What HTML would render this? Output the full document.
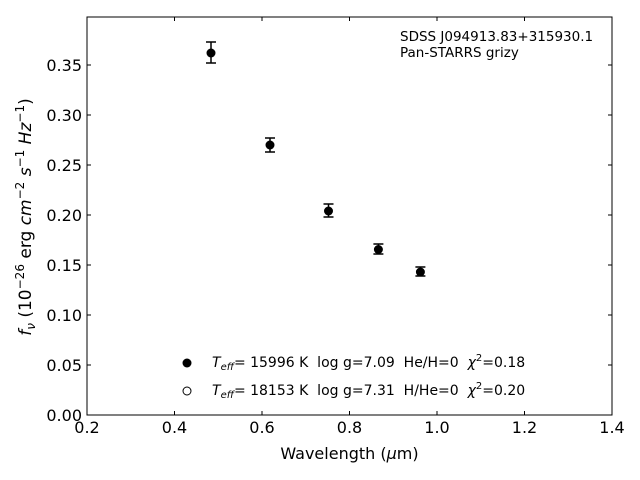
<!DOCTYPE html>
<html><head><style>body{margin:0;background:#fff}svg{display:block}text{font-family:"DejaVu Sans","Liberation Sans",sans-serif;fill:#000;white-space:pre}</style></head>
<body>
<svg width="640" height="480" viewBox="0 0 640 480" xmlns="http://www.w3.org/2000/svg" xml:space="preserve">
<rect x="87" y="17" width="525" height="398" fill="none" stroke="#000" stroke-width="1"/>
<g stroke="#000" stroke-width="1">
<line x1="87" y1="415" x2="87" y2="411"/><line x1="174.5" y1="415" x2="174.5" y2="411"/><line x1="262" y1="415" x2="262" y2="411"/><line x1="349.5" y1="415" x2="349.5" y2="411"/><line x1="437" y1="415" x2="437" y2="411"/><line x1="524.5" y1="415" x2="524.5" y2="411"/><line x1="612" y1="415" x2="612" y2="411"/>
<line x1="87" y1="17" x2="87" y2="21"/><line x1="174.5" y1="17" x2="174.5" y2="21"/><line x1="262" y1="17" x2="262" y2="21"/><line x1="349.5" y1="17" x2="349.5" y2="21"/><line x1="437" y1="17" x2="437" y2="21"/><line x1="524.5" y1="17" x2="524.5" y2="21"/>
<line x1="87" y1="415" x2="91" y2="415"/><line x1="87" y1="365" x2="91" y2="365"/><line x1="87" y1="315" x2="91" y2="315"/><line x1="87" y1="265" x2="91" y2="265"/><line x1="87" y1="215" x2="91" y2="215"/><line x1="87" y1="165" x2="91" y2="165"/><line x1="87" y1="115" x2="91" y2="115"/><line x1="87" y1="65" x2="91" y2="65"/>
<line x1="612" y1="365" x2="608" y2="365"/><line x1="612" y1="315" x2="608" y2="315"/><line x1="612" y1="265" x2="608" y2="265"/><line x1="612" y1="215" x2="608" y2="215"/><line x1="612" y1="165" x2="608" y2="165"/><line x1="612" y1="115" x2="608" y2="115"/><line x1="612" y1="65" x2="608" y2="65"/>
</g>
<g font-size="16" text-anchor="middle">
<text x="87" y="433">0.2</text><text x="174.5" y="433">0.4</text><text x="262" y="433">0.6</text><text x="349.5" y="433">0.8</text><text x="437" y="433">1.0</text><text x="524.5" y="433">1.2</text><text x="612" y="433">1.4</text>
</g>
<g font-size="16" text-anchor="end">
<text x="82" y="421">0.00</text><text x="82" y="371">0.05</text><text x="82" y="321">0.10</text><text x="82" y="271">0.15</text><text x="82" y="221">0.20</text><text x="82" y="171">0.25</text><text x="82" y="121">0.30</text><text x="82" y="71">0.35</text>
</g>
<text x="349.5" y="459" font-size="16" text-anchor="middle">Wavelength (<tspan font-style="italic">μ</tspan>m)</text>
<text transform="translate(31,217) rotate(-90)" font-size="17" text-anchor="middle"><tspan font-style="italic">f</tspan><tspan font-style="italic" font-size="12" dy="4">ν</tspan><tspan dy="-4"> (10</tspan><tspan font-size="12" dy="-7">−26</tspan><tspan dy="7"> erg </tspan><tspan font-style="italic">cm</tspan><tspan font-size="12" dy="-7">−2</tspan><tspan dy="7" font-style="italic"> s</tspan><tspan font-size="12" dy="-7">−1</tspan><tspan dy="7" font-style="italic"> Hz</tspan><tspan font-size="12" dy="-7">−1</tspan><tspan dy="7">)</tspan></text>
<text x="400" y="41" font-size="13.5">SDSS J094913.83+315930.1</text>
<text x="400" y="57" font-size="13.5">Pan-STARRS grizy</text>
<g stroke="#000" stroke-width="1.5" fill="none">
<path d="M211 42V63M206 42H216M206 63H216"/>
<path d="M270 138V152M265 138H275M265 152H275"/>
<path d="M328.5 204V217M323.5 204H333.5M323.5 217H333.5"/>
<path d="M378.4 244V254M373.4 244H383.4M373.4 254H383.4"/>
<path d="M420.4 267V276M415.4 267H425.4M415.4 276H425.4"/>
</g>
<g fill="#000">
<circle cx="211" cy="53" r="4.5"/><circle cx="270" cy="145" r="4.5"/><circle cx="328.5" cy="211" r="4.5"/><circle cx="378.4" cy="249.5" r="4.5"/><circle cx="420.4" cy="272" r="4.5"/>
<circle cx="187" cy="363" r="4.5"/>
</g>
<circle cx="187" cy="391" r="4" fill="#fff" stroke="#000" stroke-width="1"/>
<g font-size="14">
<text x="212" y="367"><tspan font-style="italic">T</tspan><tspan font-style="italic" font-size="10" dy="3">eff</tspan><tspan dy="-3">= 15996 K  log g=7.09  He/H=0  </tspan><tspan font-style="italic">χ</tspan><tspan font-size="10" dy="-6">2</tspan><tspan dy="6">=0.18</tspan></text>
<text x="212" y="395"><tspan font-style="italic">T</tspan><tspan font-style="italic" font-size="10" dy="3">eff</tspan><tspan dy="-3">= 18153 K  log g=7.31  H/He=0  </tspan><tspan font-style="italic">χ</tspan><tspan font-size="10" dy="-6">2</tspan><tspan dy="6">=0.20</tspan></text>
</g>
</svg>
</body></html>
